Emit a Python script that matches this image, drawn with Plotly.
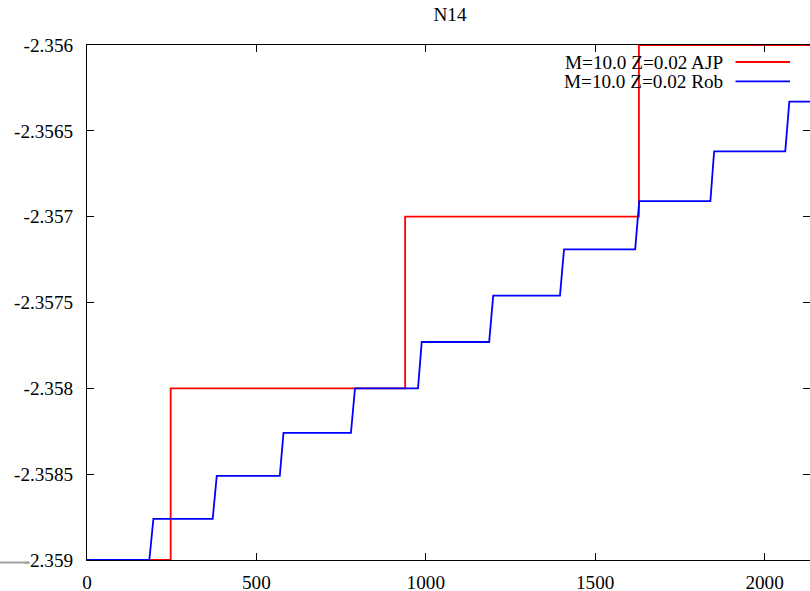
import plotly.graph_objects as go

# Run data: cumulative step levels for the two N14 series
title_text = "N14"

ajp_label = "M=10.0 Z=0.02 AJP"
ajp_x = [0, 247, 939, 1629, 2140]
ajp_y = [-2.359, -2.358, -2.357, -2.356, -2.356]

rob_label = "M=10.0 Z=0.02 Rob"
rob_x = [0, 184, 196, 371, 383, 569, 580, 779, 791, 977, 988, 1187, 1199,
         1396, 1408, 1618, 1630, 1840, 1851, 2061, 2073, 2140]
rob_y = [-2.359, -2.359, -2.35876, -2.35876, -2.35851, -2.35851, -2.35826,
         -2.35826, -2.358, -2.358, -2.35773, -2.35773, -2.35746, -2.35746,
         -2.35719, -2.35719, -2.35691, -2.35691, -2.35662, -2.35662,
         -2.35633, -2.35633]

x_ticks = [0, 500, 1000, 1500, 2000]
x_tick_text = ["0", "500", "1000", "1500", "2000"]
y_ticks = [-2.359, -2.3585, -2.358, -2.3575, -2.357, -2.3565, -2.356]
y_tick_text = ["-2.359", "-2.3585", "-2.358", "-2.3575", "-2.357", "-2.3565", "-2.356"]

W, H = 810, 591
L, R, T, B = 87, 0, 45, 31
PW, PH = W - L - R, H - T - B
FONT = "Liberation Serif"
FS = 19.2


def px_x(px):
    return (px - L) / PW


def px_y(py):
    return (H - B - py) / PH


fig = go.Figure()
fig.add_trace(go.Scatter(x=ajp_x, y=ajp_y, mode="lines", line_shape="hv",
                         line=dict(color="#ff0000", width=1.8), name=ajp_label,
                         showlegend=False, hoverinfo="skip"))
fig.add_trace(go.Scatter(x=rob_x, y=rob_y, mode="lines",
                         line=dict(color="#0000ff", width=1.8), name=rob_label,
                         showlegend=False, hoverinfo="skip"))

axis_common = dict(showgrid=False, zeroline=False, showline=True, linecolor="black",
                   linewidth=1, ticks="inside", ticklen=7, tickwidth=1,
                   tickcolor="black", mirror="ticks", automargin=False,
                   tickfont=dict(family=FONT, size=FS, color="black"))

fig.update_xaxes(range=[0, 2134], tickmode="array", tickvals=x_ticks,
                 ticktext=x_tick_text, ticklabelstandoff=5, **axis_common)
fig.update_yaxes(range=[-2.359, -2.356], tickmode="array", tickvals=y_ticks,
                 ticktext=y_tick_text, ticklabelstandoff=9, **axis_common)

# key: text to the left of the line sample
shapes = []
annotations = []
for i, (lab, col) in enumerate([(ajp_label, "#ff0000"), (rob_label, "#0000ff")]):
    yy = px_y(62 + i * 19.3)
    annotations.append(dict(x=px_x(725), y=yy, xref="paper", yref="paper",
                            text=lab, showarrow=False, xanchor="right",
                            yanchor="middle",
                            font=dict(family=FONT, size=FS, color="black")))
    shapes.append(dict(type="line", xref="paper", yref="paper",
                       x0=px_x(735.5), x1=px_x(790), y0=yy, y1=yy,
                       line=dict(color=col, width=1.8)))

# short grey rule at the lower-left corner
shapes.append(dict(type="line", xref="paper", yref="paper",
                   x0=px_x(0), x1=px_x(29), y0=px_y(562.5), y1=px_y(562.5),
                   line=dict(color="#a0a0a0", width=2)))

fig.update_layout(
    width=W, height=H,
    margin=dict(l=L, r=R, t=T, b=B, pad=0, autoexpand=False),
    paper_bgcolor="white", plot_bgcolor="white",
    title=dict(text=title_text, x=450 / W, xref="container", xanchor="center",
               y=1 - 14 / H, yref="container", yanchor="middle",
               font=dict(family=FONT, size=FS, color="black")),
    shapes=shapes, annotations=annotations,
    showlegend=False,
)

fig.write_html("out.html")
